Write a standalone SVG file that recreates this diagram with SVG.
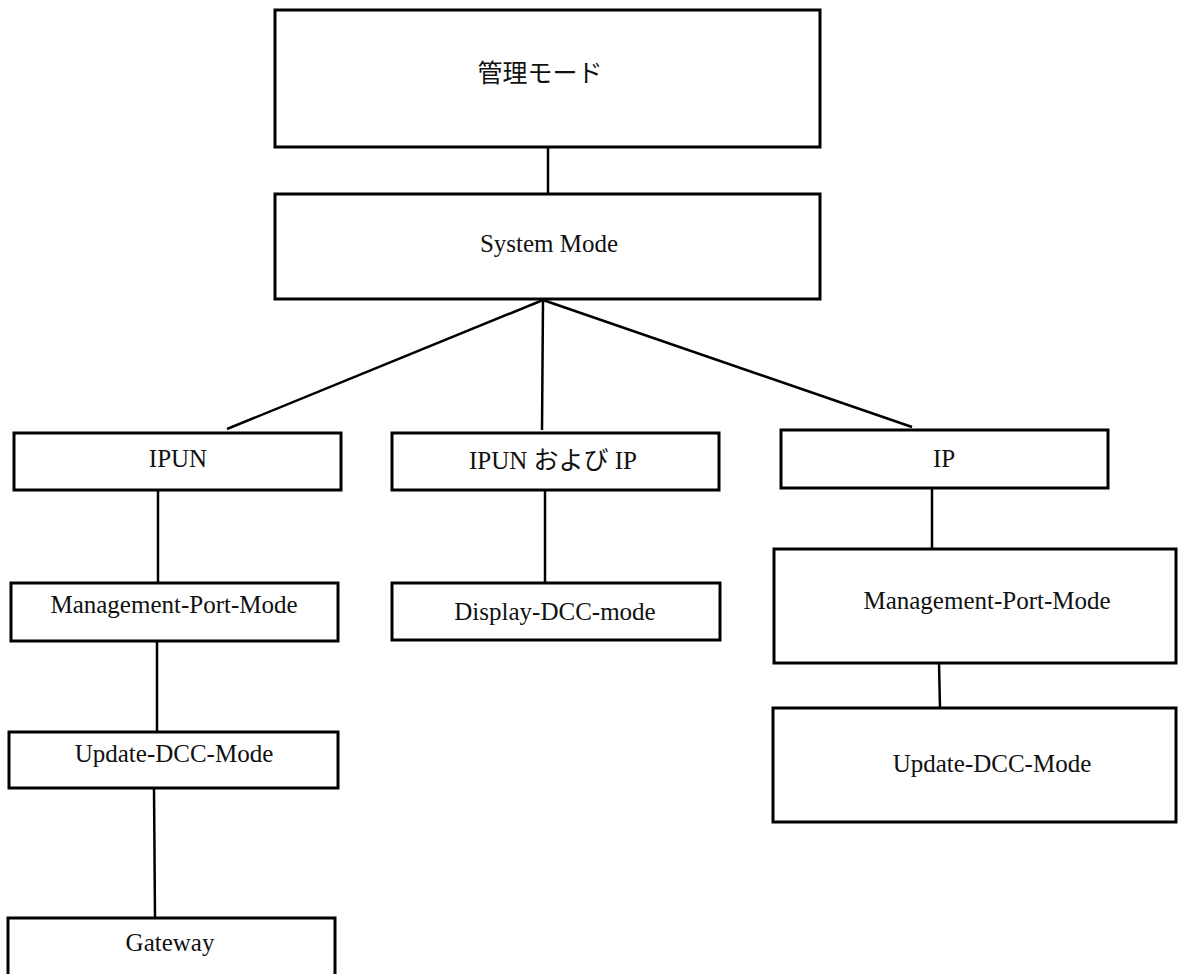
<svg xmlns="http://www.w3.org/2000/svg" width="1185" height="974" viewBox="0 0 1185 974">
<style>
.box{fill:#fff;stroke:#000;stroke-width:3}
.lbl{font-family:"Liberation Serif","Noto Sans CJK JP",serif;font-size:25px;fill:#111;text-anchor:middle}
.con{stroke:#000;stroke-width:2.5;fill:none}
</style>
<rect width="1185" height="974" fill="#fff"/>
<g id="connectors">
<line class="con" x1="548" y1="147" x2="548" y2="194"/>
<line class="con" x1="543" y1="300" x2="227" y2="429"/>
<line class="con" x1="543" y1="300" x2="542" y2="430"/>
<line class="con" x1="543" y1="300" x2="912" y2="427"/>
<line class="con" x1="158" y1="491" x2="158" y2="583"/>
<line class="con" x1="157" y1="641" x2="157" y2="732"/>
<line class="con" x1="154" y1="788" x2="155" y2="918"/>
<line class="con" x1="545" y1="491" x2="545" y2="583"/>
<line class="con" x1="932" y1="489" x2="932" y2="549"/>
<line class="con" x1="939" y1="663" x2="940" y2="708"/>
</g>
<g id="n-kanri">
<rect class="box" x="275" y="10" width="545" height="137"/>
<text class="lbl" x="540" y="82">管理モード</text>
</g>
<g id="n-system">
<rect class="box" x="275" y="194" width="545" height="105"/>
<text class="lbl" x="549" y="252">System Mode</text>
</g>
<g id="n-ipun">
<rect class="box" x="14" y="433" width="327" height="57"/>
<text class="lbl" x="178" y="467">IPUN</text>
</g>
<g id="n-ipun-ip">
<rect class="box" x="392" y="433" width="327" height="57"/>
<text class="lbl" x="553" y="469">IPUN および IP</text>
</g>
<g id="n-ip">
<rect class="box" x="781" y="430" width="327" height="58"/>
<text class="lbl" x="944" y="467">IP</text>
</g>
<g id="n-mgmt-left">
<rect class="box" x="11" y="583" width="327" height="58"/>
<text class="lbl" x="174" y="613">Management-Port-Mode</text>
</g>
<g id="n-update-left">
<rect class="box" x="9" y="732" width="329" height="56"/>
<text class="lbl" x="174" y="762">Update-DCC-Mode</text>
</g>
<g id="n-gateway">
<rect class="box" x="8" y="918" width="327" height="70"/>
<text class="lbl" x="170" y="951">Gateway</text>
</g>
<g id="n-display">
<rect class="box" x="392" y="583" width="328" height="57"/>
<text class="lbl" x="555" y="620">Display-DCC-mode</text>
</g>
<g id="n-mgmt-right">
<rect class="box" x="774" y="549" width="402" height="114"/>
<text class="lbl" x="987" y="609">Management-Port-Mode</text>
</g>
<g id="n-update-right">
<rect class="box" x="773" y="708" width="403" height="114"/>
<text class="lbl" x="992" y="772">Update-DCC-Mode</text>
</g>
</svg>
